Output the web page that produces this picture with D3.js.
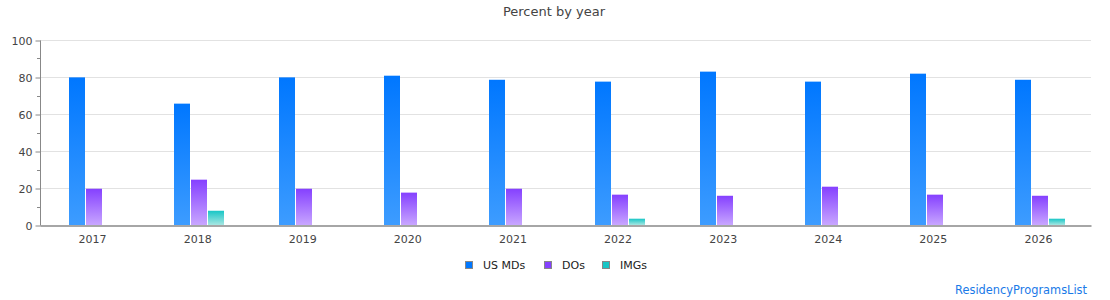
<!DOCTYPE html>
<html>
<head>
<meta charset="utf-8">
<script src="https://cdn.jsdelivr.net/npm/d3@7"></script>
<style>
  body { margin: 0; background: #fff; }
  text { font-family: "DejaVu Sans", sans-serif; }
</style>
</head>
<body>
<script>
// data
var years = ["2017", "2018", "2019", "2020", "2021", "2022", "2023", "2024", "2025", "2026"];
var seriesNames = ["US MDs", "DOs", "IMGs"];
var usMDs = [79.8, 65.6, 79.8, 80.7, 78.5, 77.5, 82.9, 77.5, 81.8, 78.5];
var dOs = [19.6, 24.5, 19.6, 17.5, 19.6, 16.4, 15.8, 20.7, 16.4, 15.8];
var imgs = [0, 7.7, 0, 0, 0, 3.4, 0, 0, 0, 3.4];
var yTicks = [0, 20, 40, 60, 80, 100];

// svg container
var width = 1110;
var height = 300;

var margin = { top: 40, right: 19, bottom: 75, left: 40 };
var chartWidth = width - margin.left - margin.right;
var chartHeight = height - margin.top - margin.bottom;

var svg = d3.select("body").append("svg")
    .attr("width", width)
    .attr("height", height);

// gradients for the bars
var colors = [
  { top: "#0077ff", bottom: "#3d9cff" },
  { top: "#8540ff", bottom: "#c8a6ff" },
  { top: "#18c6c6", bottom: "#a6e6e2" }
];
var defs = svg.append("defs");
colors.forEach(function(c, i) {
  var g = defs.append("linearGradient")
      .attr("id", "grad" + i)
      .attr("x1", 0).attr("y1", 0).attr("x2", 0).attr("y2", 1);
  g.append("stop").attr("offset", "0%").attr("stop-color", c.top);
  g.append("stop").attr("offset", "100%").attr("stop-color", c.bottom);
});

// title
svg.append("text")
    .attr("x", 554)
    .attr("y", 16)
    .attr("text-anchor", "middle")
    .attr("font-size", 13)
    .attr("fill", "#444")
    .text("Percent by year");

var chartGroup = svg.append("g")
    .attr("transform", `translate(${margin.left}, ${margin.top})`);

// scales
var yScale = d3.scaleLinear()
    .domain([0, 100])
    .range([chartHeight, 0]);

var xScale = d3.scaleBand()
    .domain(years)
    .range([0, chartWidth]);

var groupWidth = 51;
var xInner = d3.scaleBand()
    .domain(seriesNames)
    .range([0, groupWidth]);

// gridlines
chartGroup.append("g")
  .selectAll("line")
  .data(yTicks.slice(1))
  .enter()
  .append("line")
    .attr("x1", 0)
    .attr("x2", chartWidth)
    .attr("y1", d => yScale(d) + 0.5)
    .attr("y2", d => yScale(d) + 0.5)
    .attr("stroke", "#e2e2e2")
    .attr("stroke-width", 1);

// y axis with minor ticks
var minor = d3.range(10, 100, 20);
chartGroup.append("g")
  .selectAll("line")
  .data(minor)
  .enter()
  .append("line")
    .attr("x1", -3)
    .attr("x2", 0)
    .attr("y1", d => Math.round(yScale(d)) + 0.5)
    .attr("y2", d => Math.round(yScale(d)) + 0.5)
    .attr("stroke", "#888");

var yAxis = d3.axisLeft(yScale)
    .tickValues(yTicks)
    .tickSize(5)
    .tickPadding(3);

var yAxisG = chartGroup.append("g")
    .attr("transform", "translate(0.5, 0.5)")
    .call(yAxis);
yAxisG.select(".domain").attr("stroke", "#888").attr("d", `M0,0V${chartHeight}`);
yAxisG.selectAll(".tick line").attr("stroke", "#888");
yAxisG.selectAll("text")
    .attr("font-size", 11)
    .attr("font-family", "DejaVu Sans, sans-serif")
    .attr("fill", "#444");

// bars
var series = [usMDs, dOs, imgs];
var barData = [];
years.forEach(function(y, i) {
  series.forEach(function(s, j) {
    if (s[i] > 0) barData.push({ year: y, name: seriesNames[j], idx: j, value: s[i] });
  });
});

chartGroup.append("g")
  .selectAll("rect")
  .data(barData)
  .enter()
  .append("rect")
    .attr("x", d => Math.round(xScale(d.year) + (xScale.bandwidth() - groupWidth) / 2 + 2) + xInner(d.name))
    .attr("y", d => yScale(d.value))
    .attr("width", xInner.bandwidth() - 1)
    .attr("height", d => chartHeight - yScale(d.value))
    .attr("fill", d => `url(#grad${d.idx})`);

// x axis
var xAxis = d3.axisBottom(xScale)
    .tickSize(0)
    .tickPadding(10);

var xAxisG = chartGroup.append("g")
    .attr("transform", `translate(0, ${chartHeight + 0.5})`)
    .call(xAxis);
xAxisG.select(".domain").attr("stroke", "#888").attr("stroke-width", 1.5);
xAxisG.selectAll("text")
    .attr("font-size", 11)
    .attr("font-family", "DejaVu Sans, sans-serif")
    .attr("fill", "#444");

// legend
var legendX = [465, 544, 602];
var legend = svg.append("g")
  .selectAll("g")
  .data(seriesNames)
  .enter()
  .append("g")
    .attr("transform", (d, i) => `translate(${legendX[i]}, 261)`);

legend.append("rect")
    .attr("x", 0.5)
    .attr("y", 0.5)
    .attr("width", 7)
    .attr("height", 7)
    .attr("fill", (d, i) => colors[i].top)
    .attr("stroke", "#888");

legend.append("text")
    .attr("x", 18)
    .attr("y", 8)
    .attr("font-size", 11)
    .attr("fill", "#222")
    .text(d => d);

// credit
svg.append("text")
    .attr("x", 1087)
    .attr("y", 294)
    .attr("text-anchor", "end")
    .attr("font-size", 11.4)
    .attr("fill", "#1a7ae8")
    .text("ResidencyProgramsList");
</script>
</body>
</html>
